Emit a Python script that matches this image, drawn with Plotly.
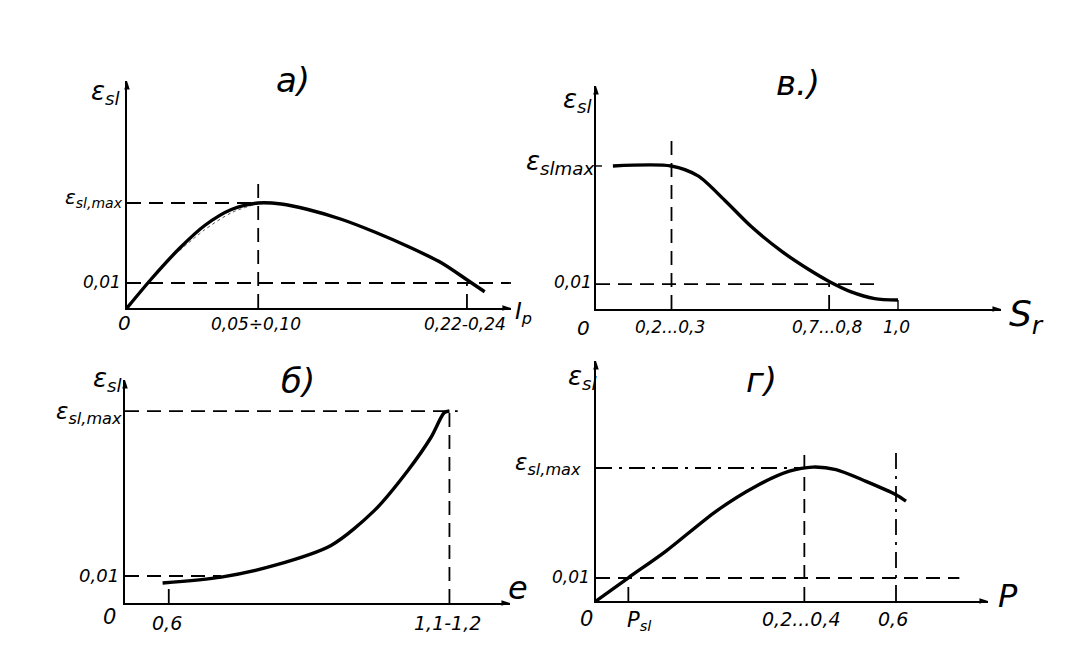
import plotly.graph_objects as go

W, H = 1079, 657

# ---------------- data ----------------
# а) relative subsidence vs plasticity index I_p
a_ip = [0.0, 0.0163, 0.0353, 0.0521, 0.070, 0.088, 0.1035, 0.1214, 0.1437, 0.1661, 0.1885, 0.2108, 0.2287, 0.2399]
a_eps = [0.0, 0.0116, 0.0239, 0.0330, 0.0394, 0.0420, 0.0416, 0.0394, 0.0355, 0.0304, 0.0246, 0.0181, 0.0110, 0.0065]
a_ip_faint = [0.0353, 0.0521, 0.070, 0.0856]
a_eps_faint = [0.0230, 0.0313, 0.0381, 0.0414]
a_eps_max = 0.042
a_ip_peak = 0.088
a_ip_cross = 0.228
a_tick_pos = [0.088, 0.228]
a_tick_txt = ["0,05÷0,10", "0,22-0,24"]

# б) relative subsidence vs void ratio e
b_e = [0.588, 0.702, 0.805, 0.915, 0.999, 1.064, 1.109, 1.135, 1.145]
b_eps = [0.0074, 0.0096, 0.0139, 0.0213, 0.0342, 0.0490, 0.0613, 0.0705, 0.0711]
b_eps_max = 0.0711
b_e_low = 0.6
b_e_high = 1.145
b_tick_pos = [0.6, 1.145]
b_tick_txt = ["0,6", "1,1-1,2"]

# в) relative subsidence vs degree of saturation S_r
c_sr = [0.056, 0.249, 0.338, 0.426, 0.514, 0.614, 0.702, 0.772, 0.845, 0.923, 1.0]
c_eps = [0.0576, 0.0576, 0.0536, 0.0438, 0.0332, 0.0233, 0.0161, 0.0111, 0.0069, 0.0042, 0.0036]
c_eps_max = 0.0576
c_sr_flat = 0.25
c_sr_cross = 0.772
c_sr_full = 1.0
c_tick_pos = [0.25, 0.772, 1.0]
c_tick_txt = ["0,2...0,3", "0,7...0,8", "1,0"]

# г) relative subsidence vs pressure P
d_p = [0.0, 0.0647, 0.14, 0.24, 0.32, 0.3867, 0.4333, 0.48, 0.54, 0.6, 0.62]
d_eps = [0.0, 0.0101, 0.0217, 0.0390, 0.0499, 0.0564, 0.0582, 0.0571, 0.0520, 0.0462, 0.0434]
d_eps_max = 0.0578
d_p_sl = 0.0647
d_p_peak = 0.4167
d_p_high = 0.6
d_tick_pos = [0.0647, 0.4167, 0.6]
d_tick_txt = ["P<sub>sl</sub>", "0,2...0,4", "0,6"]

eps_level = 0.01

# label texts
EPS = "ε<sub>sl</sub>"
EPS_MAX = "ε<sub>sl,max</sub>"
EPS_MAX_C = "ε<sub>slmax</sub>"
X_NAMES = {1: "I<sub>p</sub>", 2: "S<sub>r</sub>", 3: "e", 4: "P"}
PANEL_TITLES = {1: "а)", 2: "в.)", 3: "б)", 4: "г)"}

# ---------------- layout helpers ----------------
FONT = "DejaVu Sans"
INK = "black"

# origin pixel, pixel-per-unit scales and axis extents for each sketch panel
panels = {
    1: dict(ox=119, oy=300, sx=1491, sy=2500, x0=0.0, xmax=0.2575, ymax=0.0908),   # а
    2: dict(ox=588, oy=301, sx=302, sy=2483, x0=0.0, xmax=1.341, ymax=0.0898),     # в
    3: dict(ox=117, oy=595, sx=515, sy=2700, x0=0.515, xmax=1.2626, ymax=0.0826),  # б
    4: dict(ox=588, oy=593, sx=500, sy=2301, x0=0.0, xmax=0.784, ymax=0.1043),     # г
}

fig = go.Figure()
annotations = []


def ax_ids(n):
    return ("x" if n == 1 else f"x{n}", "y" if n == 1 else f"y{n}")


def curve(n, xs, ys, width=3.4, dash="solid", color=INK, shape="spline"):
    xa, ya = ax_ids(n)
    fig.add_trace(go.Scatter(x=xs, y=ys, mode="lines", xaxis=xa, yaxis=ya,
                             line=dict(color=color, width=width, dash=dash, shape=shape, smoothing=0.8),
                             cliponaxis=False, showlegend=False, hoverinfo="skip"))


def guide(n, xs, ys, dash="14px,8px", width=1.8):
    curve(n, xs, ys, width=width, dash=dash, shape="linear")


def arrowhead(n, x, y, angle):
    xa, ya = ax_ids(n)
    fig.add_trace(go.Scatter(x=[x], y=[y], mode="markers", xaxis=xa, yaxis=ya,
                             marker=dict(symbol="arrow", angle=angle, size=9, color=INK,
                                         line=dict(width=0)),
                             cliponaxis=False, showlegend=False, hoverinfo="skip"))


def text(n, x, y, s, size=16, xanchor="center", yanchor="middle", xshift=0, yshift=0):
    xa, ya = ax_ids(n)
    annotations.append(dict(x=x, y=y, xref=xa, yref=ya, text=f"<i>{s}</i>", showarrow=False,
                            xanchor=xanchor, yanchor=yanchor, xshift=xshift, yshift=yshift,
                            font=dict(family=FONT, size=size, color=INK)))


def ptext(px, py, s, size=16, xanchor="center", yanchor="middle"):
    annotations.append(dict(x=px / W, y=1 - py / H, xref="paper", yref="paper", text=f"<i>{s}</i>",
                            showarrow=False, xanchor=xanchor, yanchor=yanchor,
                            font=dict(family=FONT, size=size, color=INK)))


layout_axes = {}
for n, p in panels.items():
    xa, ya = ax_ids(n)
    xkey = "xaxis" if n == 1 else f"xaxis{n}"
    ykey = "yaxis" if n == 1 else f"yaxis{n}"
    xpx_end = p["ox"] + (p["xmax"] - p["x0"]) * p["sx"]
    ypx_top = p["oy"] - p["ymax"] * p["sy"]
    common = dict(showline=True, linecolor=INK, linewidth=2, showgrid=False, zeroline=False,
                  ticks="", showticklabels=False, fixedrange=True)
    layout_axes[xkey] = dict(domain=[p["ox"] / W, xpx_end / W], range=[p["x0"], p["xmax"]],
                             anchor=ya, **common)
    layout_axes[ykey] = dict(domain=[1 - p["oy"] / H, 1 - ypx_top / H], range=[0, p["ymax"]],
                             anchor=xa, **common)
    # arrow heads at the axis ends
    arrowhead(n, p["xmax"], 0, 90)
    arrowhead(n, p["x0"], p["ymax"], 0)

# ---------------- panel а ----------------
guide(1, [0, a_ip_peak], [a_eps_max, a_eps_max])
guide(1, [0, 0.262], [eps_level, eps_level])
guide(1, [a_ip_peak, a_ip_peak], [0, 0.0508])
guide(1, [a_ip_cross, a_ip_cross], [0, eps_level])
curve(1, a_ip_faint, a_eps_faint, width=1, dash="dot", color="#555")
curve(1, a_ip, a_eps)
for pos, s in zip(a_tick_pos, a_tick_txt):
    text(1, pos, 0, s, size=17, yanchor="top", yshift=-4, xshift=-2)
text(1, 0, 0, "0", size=20, yanchor="top", yshift=-1, xshift=-3)
text(1, 0, eps_level, "0,01", size=17, xanchor="right", xshift=-4, yshift=1)
text(1, 0, a_eps_max, EPS_MAX, size=20, xanchor="right", xshift=-2, yshift=5)
text(1, 0, 0.0908, EPS, size=26, xanchor="right", yanchor="middle", xshift=-5, yshift=-12)
ptext(505, 305, X_NAMES[1], size=23, xanchor="left")
ptext(285, 72, PANEL_TITLES[1], size=34)

# ---------------- panel в ----------------
guide(2, [0, 0.945], [eps_level, eps_level])
guide(2, [c_sr_flat, c_sr_flat], [0, 0.0701])
guide(2, [c_sr_cross, c_sr_cross], [0, eps_level])
guide(2, [c_sr_full, c_sr_full], [0, 0.0036], dash="solid", width=1.4)
guide(2, [-0.017, 0.02], [c_eps_max, c_eps_max], dash="solid", width=1.4)
curve(2, c_sr, c_eps)
for pos, s in zip(c_tick_pos, c_tick_txt):
    text(2, pos, 0, s, size=17, yanchor="top", yshift=-6, xshift=-2)
text(2, 0, 0, "0", size=20, yanchor="top", yshift=-5, xshift=-13)
text(2, 0, eps_level, "0,01", size=17, xanchor="right", xshift=-2, yshift=2)
text(2, 0, c_eps_max, EPS_MAX_C, size=26, xanchor="right", xshift=0, yshift=3)
text(2, 0, 0.0898, EPS, size=26, xanchor="right", yanchor="middle", xshift=-2, yshift=-14)
ptext(1018, 308, X_NAMES[2], size=36)
ptext(790, 75, PANEL_TITLES[2], size=34)

# ---------------- panel б ----------------
guide(3, [0.515, 1.161], [b_eps_max, b_eps_max])
guide(3, [0.515, 0.702], [eps_level, eps_level])
guide(3, [b_e_high, b_e_high], [0, b_eps_max])
guide(3, [b_e_low, b_e_low], [0, 0.0071])
curve(3, b_e, b_eps)
for pos, s in zip(b_tick_pos, b_tick_txt):
    text(3, pos, 0, s, size=19, yanchor="top", yshift=-7, xshift=-2)
text(3, 0.515, 0, "0", size=21, yanchor="top", yshift=0, xshift=-16)
text(3, 0.515, eps_level, "0,01", size=18, xanchor="right", xshift=-4, yshift=1)
text(3, 0.515, b_eps_max, EPS_MAX, size=23, xanchor="right", xshift=-1, yshift=-2)
text(3, 0.515, 0.0826, EPS, size=26, xanchor="right", yanchor="middle", xshift=-1, yshift=0)
ptext(510, 580, X_NAMES[3], size=32)
ptext(290, 373, PANEL_TITLES[3], size=34)

# ---------------- panel г ----------------
guide(4, [0, d_p_peak], [d_eps_max, d_eps_max], dash="16px,7px,3px,7px")
guide(4, [0, 0.7267], [eps_level, eps_level])
guide(4, [d_p_peak, d_p_peak], [0, 0.065])
guide(4, [d_p_high, d_p_high], [0, 0.0672], dash="16px,7px,3px,7px")
guide(4, [d_p_sl, d_p_sl], [0, eps_level])
curve(4, d_p, d_eps)
for pos, s in zip(d_tick_pos, d_tick_txt):
    text(4, pos, 0, s, size=21 if s.startswith("P") else 19, yanchor="top", yshift=-5,
         xshift=11 if s.startswith("P") else -3)
text(4, 0, 0, "0", size=21, yanchor="top", yshift=-4, xshift=-10)
text(4, 0, eps_level, "0,01", size=17, xanchor="right", xshift=-4, yshift=1)
text(4, 0, d_eps_max, EPS_MAX, size=23, xanchor="right", xshift=-13, yshift=4)
text(4, 0, 0.1043, EPS, size=26, xanchor="right", yanchor="middle", xshift=3, yshift=-16)
ptext(1000, 588, X_NAMES[4], size=32)
ptext(753, 372, PANEL_TITLES[4], size=34)

fig.update_layout(width=W, height=H, margin=dict(l=0, r=0, t=0, b=0),
                  paper_bgcolor="white", plot_bgcolor="rgba(0,0,0,0)",
                  showlegend=False, annotations=annotations, **layout_axes)

fig.write_html("out.html")
